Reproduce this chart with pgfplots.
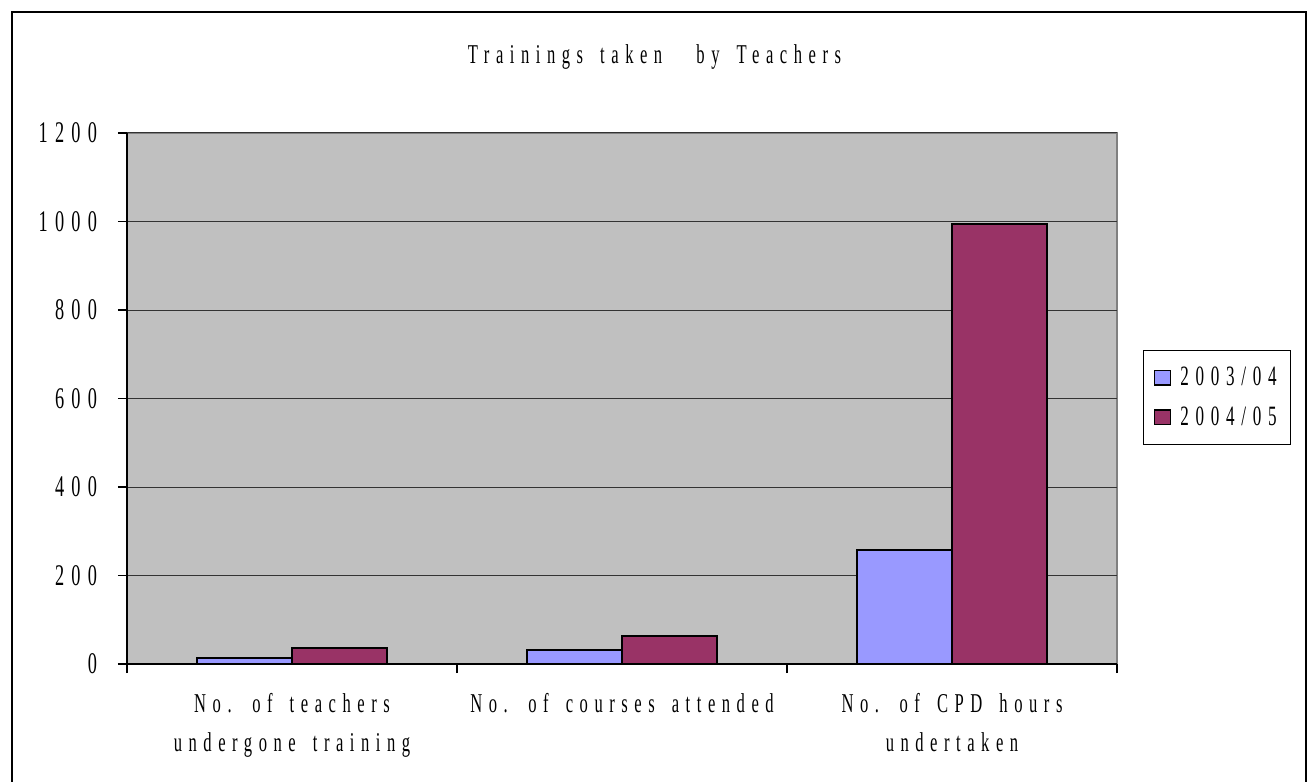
\documentclass[border=0pt]{standalone}
\usepackage{fontspec}
\setmainfont{Liberation Serif}[FakeStretch=0.61,LetterSpace=24,WordSpace=1.6]
\usepackage{pgfplots}
\pgfplotsset{compat=1.18}
\definecolor{c1}{HTML}{9999FF}
\definecolor{c2}{HTML}{993366}
\definecolor{bg}{HTML}{C0C0C0}
\begin{document}
\begin{tikzpicture}
\begin{axis}[scale only axis,
  width=495pt, height=265.5pt,
  clip=false,
  ymin=0, ymax=1200, ytick={0,200,...,1200},
  xmin=0.5, xmax=3.5, xtick={0.5,1.5,2.5,3.5},
  xticklabels={{No. of teachers\\undergone training},{No. of courses attended},{No. of CPD hours\\undertaken}},
  x tick label as interval,
  axis x line*=bottom, axis y line*=left,
  axis line style={-, black, line width=0.6pt},
  axis background/.style={fill=bg, draw=gray, line width=1pt},
  tick align=outside, major tick length=4.5pt,
  tick style={black, line width=0.6pt},
  ymajorgrids, major grid style={black!80, line width=0.5pt},
  /pgf/number format/assume math mode=true,
  /pgf/number format/1000 sep={},
  yticklabel style={font=\fontsize{15}{18}\selectfont, xshift=-7pt},
  x tick label style={font=\fontsize{13.6}{19.5}\selectfont, align=center, yshift=-6.5pt},
  ybar=0pt, bar width=47.5pt,
  legend style={at={(1.0263,0.502)}, anchor=west, draw=black, line width=0.5pt, fill=white,
    font=\fontsize{14}{16}\selectfont, row sep=5pt, inner xsep=5pt, inner ysep=6pt},
  legend cell align=left,
  legend image code/.code={\draw[#1, line width=0.8pt] (0pt,-3.6pt) rectangle (8pt,3.6pt);
    \path[draw=none, fill=none] (0pt,0pt) (11pt,0pt);},
]
\addplot[fill=c1, draw=black, line width=1pt] coordinates {(1,13) (2,31) (3,258)};
\addplot[fill=c2, draw=black, line width=1pt] coordinates {(1,36) (2,63) (3,995)};
\legend{2003/04,2004/05}
\coordinate (bbl) at (rel axis cs:-0.12828,-0.22034);
\coordinate (btr) at (rel axis cs:1.19293,1.25047);
\draw[line width=1pt, black] (rel axis cs:-0.11616,-0.2373) rectangle (rel axis cs:1.19091,1.22787);
\node[font=\fontsize{13.6}{16}\selectfont] at (rel axis cs:0.5328,1.143) {Trainings taken\ \ by Teachers};
\end{axis}
\pgfresetboundingbox
\path[use as bounding box] (bbl) rectangle (btr);
\end{tikzpicture}
\end{document}
